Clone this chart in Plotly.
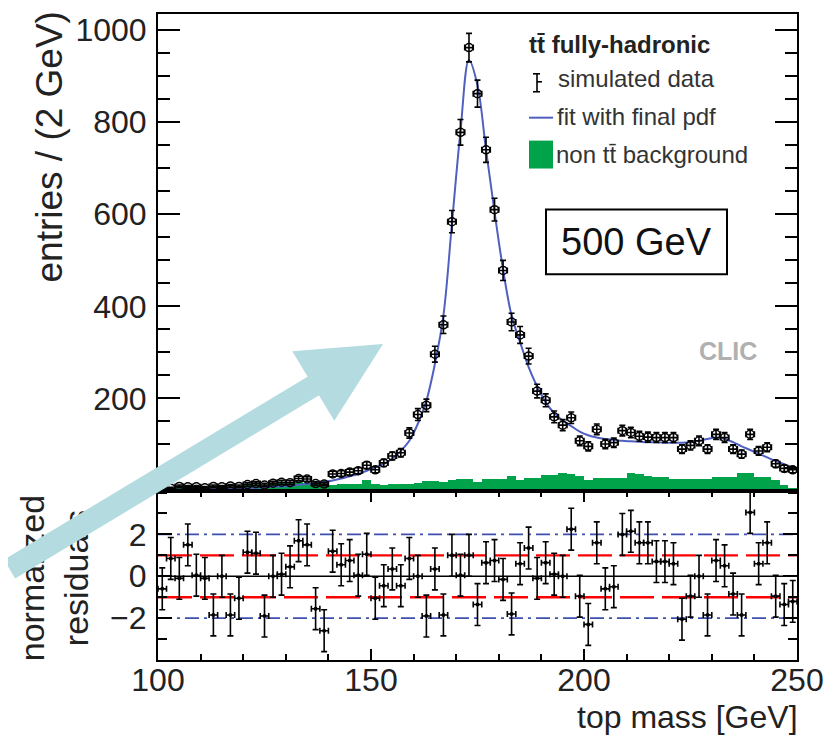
import numpy as np
import plotly.graph_objects as go

# ---------------- data ----------------
mass = [101 + 2 * i for i in range(75)]          # 2 GeV bin centres, 100-250 GeV

data_counts = [6, 5, 9, 8, 8, 6, 9, 8, 10, 9,
               13, 15, 12, 16, 18, 17, 26, 25, 15, 14,
               36, 37, 40, 43, 55, 45, 60, 75, 82, 125,
               165, 185, 296, 360, 584, 778, 962, 862, 740, 610,
               478, 366, 338, 292, 216, 196, 160, 142, 158, 108,
               96, 133, 101, 104, 130, 126, 118, 116, 115, 115,
               115, 90, 98, 108, 90, 122, 115, 90, 79, 122,
               86, 94, 58, 48, 45]

background_counts = [5, 5, 7, 7, 7, 7, 8, 7, 8, 8,
                     12, 13, 12, 14, 17, 18, 18, 17, 14, 14,
                     13, 14, 14, 14, 22, 14, 13, 14, 15, 14,
                     16, 20, 20, 19, 22, 25, 24, 18, 25, 25,
                     26, 32, 22, 27, 27, 34, 34, 37, 36, 32,
                     22, 27, 27, 27, 28, 37, 36, 32, 29, 29,
                     25, 25, 25, 25, 25, 29, 29, 29, 37, 37,
                     30, 30, 22, 12, 5]

fit_mass = [100.0] + mass + [250.0]
fit_values = [2,
              2, 2, 2, 3, 3, 3, 4, 4, 4, 5,
              5, 6, 7, 8, 9, 10, 12, 14, 16, 19,
              22, 26, 31, 36, 43, 50, 58, 69, 86, 108,
              145, 195, 275, 380, 580, 780, 935, 880, 740, 605,
              480, 380, 322, 268, 226, 192, 168, 152, 140, 128,
              120, 115, 112, 110, 108, 107, 106, 105, 105, 104,
              104, 104, 105, 108, 112, 115, 112, 105, 96, 88,
              80, 72, 64, 57, 50,
              47]

residuals = [-0.6, 0.85, -0.1, 1.5, 0.05, -0.1, -1.85, 0.0, -1.85, -1.05,
             1.15, 1.1, -1.9, 0.0, 0.1, 0.45, 1.7, 1.5, -1.55, -2.6,
             1.2, 0.55, 0.75, 0.05, 1.05, -1.05, -0.45, 0.35, -0.45, 0.85,
             0.0, -1.9, 0.35, -1.85, 1.0, 0.05, 1.0, -1.35, 0.65, 0.75,
             -0.15, -1.8, 0.6, 1.35, -0.1, 0.65, 0.1, 0.0, 2.25, -0.95,
             -2.3, 1.6, -0.6, -0.5, 2.0, 2.15, 1.6, 1.6, 0.7, 0.7,
             0.6, -2.05, -0.95, 0.0, -1.85, 0.75, 0.5, -0.85, -1.85, 3.05,
             0.6, 1.6, -0.95, -1.35, -1.2]

data_errors = np.sqrt(np.array(data_counts, dtype=float))
bin_half_width = 1.0

ref_levels = [2, 1, 0, -1, -2]
ref_colors = ["#3f4fb0", "#ff0000", "#000000", "#ff0000", "#3f4fb0"]
ref_dashes = ["14px,5px,3px,5px", "34px,8px", "solid", "34px,8px", "14px,5px,3px,5px"]
ref_widths = [1.8, 2.4, 1.4, 2.4, 1.8]

top_ticks = [200, 400, 600, 800, 1000]
res_ticks = [-2, 0, 2]
x_ticks = [100, 150, 200, 250]

# ---------------- layout geometry ----------------
# the page body has an 8 px margin, so the figure is drawn 8 px right/down
W, H = 832, 735
OFF = 8
PW, PH = 639, 648
L, T = 158 - OFF, 12 - OFF
R, B = W - L - PW, H - T - PH


def px(x):          # screen pixel -> paper x
    return (x - OFF - L) / PW


def py(y):          # screen pixel -> paper y
    return (T + PH - (y - OFF)) / PH


FONT = "Liberation Sans, Arial, Helvetica, sans-serif"
GREEN = "#00a34a"
BLUE = "#5060c0"

fig = go.Figure()

# background histogram
fig.add_trace(go.Bar(x=mass, y=background_counts, width=2.0, marker=dict(color=GREEN, line=dict(width=0)),
                     xaxis="x", yaxis="y", showlegend=False))
# fit
fig.add_trace(go.Scatter(x=fit_mass, y=fit_values, mode="lines", line=dict(color=BLUE, width=2, shape="spline"),
                         xaxis="x", yaxis="y", showlegend=False))
# data
err_style = dict(thickness=1.6, width=3, color="black")
fig.add_trace(go.Scatter(x=mass, y=data_counts, mode="markers",
                         marker=dict(symbol="circle-open", size=8, color="black", line=dict(width=1.5)),
                         error_y=dict(type="data", array=data_errors, **err_style),
                         error_x=dict(type="constant", value=bin_half_width, **err_style),
                         xaxis="x", yaxis="y", showlegend=False))

# residual reference lines
for lev, c, d, w in zip(ref_levels, ref_colors, ref_dashes, ref_widths):
    fig.add_trace(go.Scatter(x=[100, 250], y=[lev, lev], mode="lines", line=dict(color=c, dash=d, width=w),
                             xaxis="x2", yaxis="y2", showlegend=False, hoverinfo="skip"))
# residuals
fig.add_trace(go.Scatter(x=mass, y=residuals, mode="markers",
                         marker=dict(symbol="circle", size=4, color="black"),
                         error_y=dict(type="constant", value=1.0, **err_style),
                         error_x=dict(type="constant", value=bin_half_width, **err_style),
                         xaxis="x2", yaxis="y2", showlegend=False))

split = py(490)
tickfont = dict(family=FONT, size=32, color="#222")
axis_common = dict(showline=True, linecolor="black", linewidth=2, mirror="ticks", showgrid=False,
                   zeroline=False, ticks="inside", tickcolor="black", tickwidth=1.6)

fig.update_layout(
    width=W, height=H, margin=dict(l=L, r=R, t=T, b=B),
    paper_bgcolor="white", plot_bgcolor="white", bargap=0,
    xaxis=dict(domain=[0, 1], range=[100, 250], anchor="y", showticklabels=False,
               showline=True, linecolor="black", linewidth=2, mirror=True, ticks="", showgrid=False, zeroline=False),
    yaxis=dict(domain=[split, 1], range=[0, 1035], anchor="x", tickmode="array", tickvals=top_ticks,
               ticklen=22, tickfont=tickfont, ticklabelstandoff=3,
               minor=dict(tickmode="linear", tick0=0, dtick=50, ticklen=12, ticks="inside", tickwidth=1.6,
                          tickcolor="black"),
               **axis_common),
    xaxis2=dict(domain=[0, 1], range=[100, 250], anchor="y2", matches="x", tickmode="array", tickvals=x_ticks,
                ticklen=11, tickfont=tickfont, ticklabelstandoff=-9,
                minor=dict(tickmode="linear", tick0=100, dtick=10, ticklen=6, ticks="inside", tickwidth=1.6,
                           tickcolor="black"),
                **axis_common),
    yaxis2=dict(domain=[0, split - 0.0015], range=[-4.0, 4.05], anchor="x2", tickmode="array", tickvals=res_ticks,
                ticklen=14, tickfont=tickfont, ticklabelstandoff=3,
                minor=dict(tickmode="linear", tick0=0, dtick=1, ticklen=9, ticks="inside", tickwidth=1.6,
                           tickcolor="black"),
                **axis_common),
)

shapes = []
annotations = []
txt = "#333"

# legend
annotations.append(dict(x=px(527), y=py(43), xref="paper", yref="paper", xanchor="left", yanchor="middle",
                        text="<b>tt\u0304 fully-hadronic</b>", showarrow=False,
                        font=dict(family=FONT, size=24, color="#222")))
annotations.append(dict(x=px(556), y=py(77), xref="paper", yref="paper", xanchor="left", yanchor="middle",
                        text="simulated data", showarrow=False, font=dict(family=FONT, size=24, color=txt)))
annotations.append(dict(x=px(555), y=py(115), xref="paper", yref="paper", xanchor="left", yanchor="middle",
                        text="fit with final pdf", showarrow=False, font=dict(family=FONT, size=24, color=txt)))
annotations.append(dict(x=px(554), y=py(153), xref="paper", yref="paper", xanchor="left", yanchor="middle",
                        text="non tt\u0304 background", showarrow=False, font=dict(family=FONT, size=24, color=txt)))
# legend symbols
sym = dict(xref="paper", yref="paper", type="line", line=dict(color="black", width=1.6))
shapes += [
    dict(x0=px(537), x1=px(537), y0=py(72), y1=py(90), **sym),
    dict(x0=px(533), x1=px(540), y0=py(72), y1=py(72), **sym),
    dict(x0=px(533), x1=px(540), y0=py(90), y1=py(90), **sym),
    dict(x0=px(537), x1=px(542), y0=py(80), y1=py(80), **sym),
    dict(xref="paper", yref="paper", type="line", x0=px(529), x1=px(553), y0=py(116), y1=py(116),
         line=dict(color=BLUE, width=2)),
    dict(xref="paper", yref="paper", type="rect", x0=px(529), x1=px(553), y0=py(139), y1=py(167),
         fillcolor=GREEN, line=dict(width=0)),
    # 500 GeV box
    dict(xref="paper", yref="paper", type="rect", x0=px(546), x1=px(727), y0=py(208), y1=py(273),
         line=dict(color="black", width=2), fillcolor="white", layer="above"),
]
annotations.append(dict(x=px(636), y=py(241), xref="paper", yref="paper", xanchor="center", yanchor="middle",
                        text="500 GeV", showarrow=False, font=dict(family=FONT, size=38, color="#111")))
annotations.append(dict(x=px(728), y=py(350), xref="paper", yref="paper", xanchor="center", yanchor="middle",
                        text="<b>CLIC</b>", showarrow=False, font=dict(family=FONT, size=25, color="#b0b0b0")))
# axis titles
annotations.append(dict(x=px(800), y=py(717), xref="paper", yref="paper", xanchor="right", yanchor="middle",
                        text="top mass [GeV]", showarrow=False, font=dict(family=FONT, size=32, color="#222")))
annotations.append(dict(x=px(50), y=py(8), xref="paper", yref="paper", xanchor="center", yanchor="top",
                        text="entries / (2 GeV)", textangle=-90, showarrow=False,
                        font=dict(family=FONT, size=37, color="#222")))
annotations.append(dict(x=px(54), y=py(578), xref="paper", yref="paper", xanchor="center", yanchor="middle",
                        text="normalized<br>residuals", textangle=-90, showarrow=False,
                        font=dict(family=FONT, size=34, color="#222")))
# the light-blue pointer arrow drawn over the figure
annotations.append(dict(x=px(383), y=py(343), xref="paper", yref="paper", text="", showarrow=True,
                        ax=-400, ay=226, arrowhead=2, arrowsize=0.74, arrowwidth=22, arrowcolor="#b3dbe0",
                        standoff=0))

fig.update_layout(shapes=shapes, annotations=annotations)
fig.write_html("out.html")
